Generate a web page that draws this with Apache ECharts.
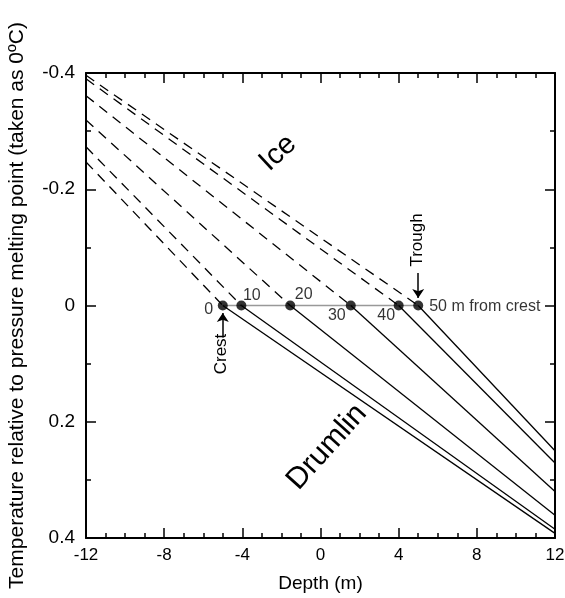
<!DOCTYPE html>
<html>
<head>
<meta charset="utf-8">
<script src="https://cdn.jsdelivr.net/npm/echarts@6/dist/echarts.min.js"></script>
<style>
  html, body { margin: 0; padding: 0; background: #fff; }
  #chart { width: 565px; height: 598px; }
</style>
</head>
<body>
<div id="chart"></div>
<script>
// distance from crest (m) for each profile
const crestDist = [0, 10, 20, 30, 40, 50];
// depth where each profile crosses 0 (ice/drumlin interface)
const pointDepth = [-5.0, -4.05, -1.55, 1.55, 4.0, 5.0];
// temperature at depth -12 m (ice side, dashed)
const iceTemp = [-0.247, -0.273, -0.319, -0.361, -0.39, -0.396];
// temperature at depth 12 m (drumlin side, solid)
const drumlinTemp = [0.392, 0.385, 0.361, 0.32, 0.271, 0.25];

const depthMin = -12, depthMax = 12;

// label layout for each point
const labelLayout = [
  { position: 'inside', offset: [-14, 4] },
  { position: 'inside', offset: [10.5, -10] },
  { position: 'inside', offset: [13.5, -10.5] },
  { position: 'inside', offset: [-14, 10.5] },
  { position: 'inside', offset: [-12.5, 10.5] },
  { position: 'right', distance: 6, offset: [0, 1] }
];

const font = 'Liberation Sans, Arial, sans-serif';

const chart = echarts.init(document.getElementById('chart'));

const series = [];
pointDepth.forEach(function (d, i) {
  // ice side
  series.push({
    type: 'line',
    data: [[depthMin, iceTemp[i]], [d, 0]],
    symbol: 'none',
    lineStyle: { color: '#000', width: 1.3, type: [10, 7] },
    z: 2
  });
  // drumlin side
  series.push({
    type: 'line',
    data: [[d, 0], [depthMax, drumlinTemp[i]]],
    symbol: 'none',
    lineStyle: { color: '#000', width: 1.3 },
    z: 2
  });
});

// grey interface line with crest / trough arrows
series.push({
  type: 'line',
  data: [[pointDepth[0], 0], [pointDepth[pointDepth.length - 1], 0]],
  symbol: 'none',
  lineStyle: { color: '#999', width: 1.5 },
  z: 1,
  markLine: {
    silent: true,
    symbol: ['none', 'arrow'],
    symbolSize: 9,
    label: { show: false },
    lineStyle: { color: '#000', width: 1.5, type: 'solid' },
    data: [
      [{ coord: [pointDepth[0], 0.055] }, { coord: [pointDepth[0], 0.013] }],
      [{ coord: [pointDepth[5], -0.056] }, { coord: [pointDepth[5], -0.013] }]
    ]
  }
});

series.push({
  type: 'scatter',
  symbolSize: 10,
  itemStyle: { color: '#000' },
  z: 5,
  data: pointDepth.map(function (d, i) {
    const last = i === pointDepth.length - 1;
    return {
      value: [d, 0],
      label: Object.assign({
        show: true,
        formatter: last ? crestDist[i] + ' m from crest' : String(crestDist[i]),
        fontSize: 16,
        fontFamily: font,
        color: '#000'
      }, labelLayout[i])
    };
  })
});

const tickCommon = {
  axisLine: { show: true, onZero: false, lineStyle: { color: '#000', width: 2 } },
  axisTick: { show: true, inside: true, length: 10, lineStyle: { color: '#000', width: 1.5 } },
  splitLine: { show: false }
};

chart.setOption({
  animation: false,
  grid: { left: 86, right: 10, top: 73, bottom: 60, containLabel: false, outerBoundsMode: 'none' },
  xAxis: [
    Object.assign({
      type: 'value', min: depthMin, max: depthMax, interval: 4, position: 'bottom',
      minorTick: { show: true, splitNumber: 4, length: 5, lineStyle: { color: '#000', width: 1.5 } },
      axisLabel: { fontSize: 17, fontFamily: font, color: '#000', margin: 9 },
      name: 'Depth (m)', nameLocation: 'middle', nameGap: 36,
      nameTextStyle: { fontSize: 19, fontFamily: font, color: '#000' }
    }, tickCommon),
    Object.assign({
      type: 'value', min: depthMin, max: depthMax, interval: 4, position: 'top',
      minorTick: { show: true, splitNumber: 4, length: 5, lineStyle: { color: '#000', width: 1.5 } },
      axisLabel: { show: false }
    }, tickCommon)
  ],
  yAxis: [
    Object.assign({
      type: 'value', inverse: true, min: -0.4, max: 0.4, interval: 0.2, position: 'left',
      minorTick: { show: true, splitNumber: 2, length: 5, lineStyle: { color: '#000', width: 1.5 } },
      axisLabel: { fontSize: 19, fontFamily: font, color: '#000', margin: 11 },
      name: 'Temperature relative to pressure melting point (taken as 0ºC)',
      nameLocation: 'middle', nameGap: 58,
      nameTextStyle: { fontSize: 21, fontFamily: font, color: '#000' }
    }, tickCommon),
    Object.assign({
      type: 'value', inverse: true, min: -0.4, max: 0.4, interval: 0.2, position: 'right',
      minorTick: { show: true, splitNumber: 2, length: 5, lineStyle: { color: '#000', width: 1.5 } },
      axisLabel: { show: false }
    }, tickCommon)
  ],
  graphic: [
    { type: 'text', x: 278, y: 153, rotation: 43 * Math.PI / 180,
      style: { text: 'Ice', font: '29px ' + font, fill: '#000', align: 'center', verticalAlign: 'middle' } },
    { type: 'text', x: 327, y: 447, rotation: 48 * Math.PI / 180,
      style: { text: 'Drumlin', font: '30px ' + font, fill: '#000', align: 'center', verticalAlign: 'middle' } },
    { type: 'text', x: 221, y: 354, rotation: Math.PI / 2,
      style: { text: 'Crest', font: '17px ' + font, fill: '#000', align: 'center', verticalAlign: 'middle' } },
    { type: 'text', x: 417, y: 240, rotation: Math.PI / 2,
      style: { text: 'Trough', font: '17px ' + font, fill: '#000', align: 'center', verticalAlign: 'middle' } }
  ],
  series: series
});
</script>
</body>
</html>
